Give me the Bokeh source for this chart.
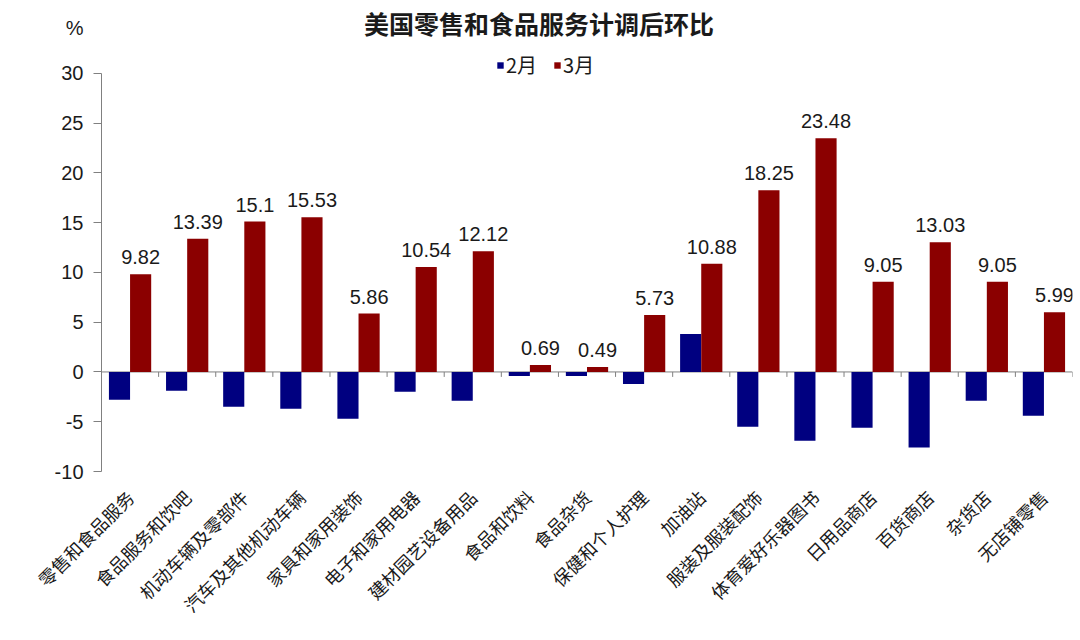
import math
from bokeh.plotting import figure
from bokeh.models import (ColumnDataSource, FactorRange, Range1d, LabelSet, Legend,
                          LegendItem, Span, FixedTicker, Label)
from bokeh.transform import dodge
from bokeh.core.properties import value
from bokeh.embed import file_html
from bokeh.resources import INLINE

# ---------------- data ----------------
categories = ["零售和食品服务", "食品服务和饮吧", "机动车辆及零部件", "汽车及其他机动车辆",
              "家具和家用装饰", "电子和家用电器", "建材园艺设备用品", "食品和饮料",
              "食品杂货", "保健和个人护理", "加油站", "服装及服装配饰",
              "体育爱好乐器图书", "日用品商店", "百货商店", "杂货店", "无店铺零售"]
feb = [-2.8, -1.9, -3.5, -3.7, -4.7, -2.0, -2.9, -0.4, -0.4, -1.2, 3.8,
       -5.5, -6.9, -5.6, -7.6, -2.9, -4.4]
mar = [9.82, 13.39, 15.1, 15.53, 5.86, 10.54, 12.12, 0.69, 0.49, 5.73, 10.88,
       18.25, 23.48, 9.05, 13.03, 9.05, 5.99]
series_names = ["2月", "3月"]
y_ticks = [-10, -5, 0, 5, 10, 15, 20, 25, 30]
title_text = "美国零售和食品服务计调后环比"
unit_text = "%"

FEB_COLOR = "#000080"
MAR_COLOR = "#8B0000"
AXIS_COLOR = "#808080"
TEXT_COLOR = "#1a1a1a"
CJK = "Noto Sans CJK SC"
LATIN = "Liberation Sans"

src = ColumnDataSource(dict(cat=categories, feb=feb, mar=mar,
                            mar_txt=[f"{v:g}" for v in mar]))

# the frame reaches the top of the canvas so the title and legend sit inside it;
# the y axis itself is bounded to -10..30
p = figure(x_range=FactorRange(*categories, range_padding=0),
           y_range=Range1d(-10, 37.31),
           width=1076, height=630, output_backend="svg", toolbar_location=None,
           min_border_left=101, min_border_right=4, min_border_top=0,
           min_border_bottom=159)

title = Label(x=7.66, y=35.1, text=title_text, text_align="center",
              text_baseline="middle", text_font=CJK, text_font_size="25px",
              text_font_style="bold", text_color=TEXT_COLOR)
p.add_layout(title)

zero = Span(location=0, dimension="width", line_color=AXIS_COLOR, line_width=1,
            level="underlay")
p.add_layout(zero)

bw = 0.37
r1 = p.vbar(x=dodge("cat", -0.185, range=p.x_range), top="feb", width=bw,
            source=src, fill_color=FEB_COLOR, line_color=None)
r2 = p.vbar(x=dodge("cat", 0.185, range=p.x_range), top="mar", width=bw,
            source=src, fill_color=MAR_COLOR, line_color=None)

# category boundary ticks on the zero line
p.segment(x0=dodge("cat", 0.5, range=p.x_range), y0=0,
          x1=dodge("cat", 0.5, range=p.x_range), y1=-0.5,
          source=src, line_color=AXIS_COLOR, line_width=1)

labels = LabelSet(x=dodge("cat", 0.185, range=p.x_range), y="mar", text="mar_txt",
                  source=src, y_offset=10, text_align="center",
                  text_baseline="alphabetic", text_font=value(LATIN),
                  text_font_size="20px", text_color=TEXT_COLOR)
p.add_layout(labels)

legend = Legend(items=[LegendItem(label=series_names[0], renderers=[r1]),
                       LegendItem(label=series_names[1], renderers=[r2])],
                orientation="horizontal", location=(395, 392),
                label_text_font=CJK, label_text_font_size="20px",
                label_text_color=TEXT_COLOR,
                glyph_width=8, glyph_height=8, label_standoff=2, spacing=16,
                padding=0, margin=0, border_line_color=None,
                background_fill_alpha=0, label_height=18)
p.add_layout(legend)

# axes
p.yaxis.ticker = FixedTicker(ticks=y_ticks)
p.yaxis.bounds = (y_ticks[0], y_ticks[-1])
tick_text = {t: str(t) for t in y_ticks}
# unit "%" shown two lines above the top tick label
tick_text[y_ticks[-1]] = f"{unit_text}\n \n{y_ticks[-1]}\n \n "
p.yaxis.major_label_overrides = tick_text
p.yaxis.major_label_text_line_height = 1.04
p.yaxis.axis_line_color = AXIS_COLOR
p.yaxis.major_tick_line_color = AXIS_COLOR
p.yaxis.major_tick_in = 0
p.yaxis.major_tick_out = 8
p.yaxis.minor_tick_line_color = None
p.yaxis.major_label_text_font = LATIN
p.yaxis.major_label_text_font_size = "20px"
p.yaxis.major_label_text_color = TEXT_COLOR
p.yaxis.major_label_standoff = 10

p.xaxis.axis_line_color = None
p.xaxis.major_tick_line_color = None
p.xaxis.minor_tick_line_color = None
p.xaxis.major_label_orientation = math.pi / 4
p.xaxis.major_label_text_font = CJK
p.xaxis.major_label_text_font_size = "18px"
p.xaxis.major_label_text_color = TEXT_COLOR
p.xaxis.major_label_standoff = 16

p.xgrid.grid_line_color = None
p.ygrid.grid_line_color = None
p.outline_line_color = None
p.background_fill_color = "white"
p.border_fill_color = "white"

open("out.html", "w").write(file_html(p, INLINE))
